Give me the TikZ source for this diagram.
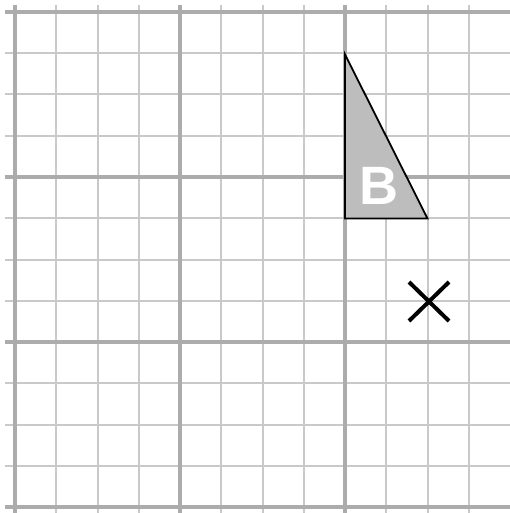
\documentclass[tikz,border=0pt]{standalone}
\usepackage{fontspec}
\setmainfont{Liberation Sans}
\begin{document}
\begin{tikzpicture}[x=1pt,y=-1pt,
  thinline/.style={draw=gray!42,line width=2pt},
  thickline/.style={draw=gray!65,line width=3.2pt},
  shapeB/.style={fill=gray!52,draw=black,line width=1.8pt,line join=miter},
  crossmark/.style={draw=black,line width=4pt}]
\useasboundingbox (0,0) rectangle (510,513);
\fill[white] (0,0) rectangle (510,513);
% thin grid lines
\foreach \i in {1,2,3,5,6,7,9,10,11}{
  \draw[thinline] ({15+41.25*\i},5) -- ({15+41.25*\i},513);
  \draw[thinline] (5,{12+41.25*\i}) -- (510,{12+41.25*\i});
}
% thick grid lines
\foreach \i in {0,4,8}{
  \draw[thickline] ({15+41.25*\i},5) -- ({15+41.25*\i},513);
}
\foreach \i in {0,4,8,12}{
  \draw[thickline] (5,{12+41.25*\i}) -- (510,{12+41.25*\i});
}
% triangle B
\coordinate (t1) at (345,54.5);
\coordinate (t2) at (345,218.5);
\coordinate (t3) at (427.5,218.5);
\path[shapeB] (t1) -- (t2) -- (t3) -- cycle;
\node[text=white,font=\fontsize{54}{54}\selectfont\bfseries,inner sep=0pt] (labB) at (378.5,185.5) {B};
% cross
\coordinate (c1) at (409,282);
\coordinate (c2) at (449,321);
\coordinate (c3) at (409,321);
\coordinate (c4) at (449,282);
\draw[crossmark] (c1) -- (c2);
\draw[crossmark] (c3) -- (c4);
\end{tikzpicture}
\end{document}
